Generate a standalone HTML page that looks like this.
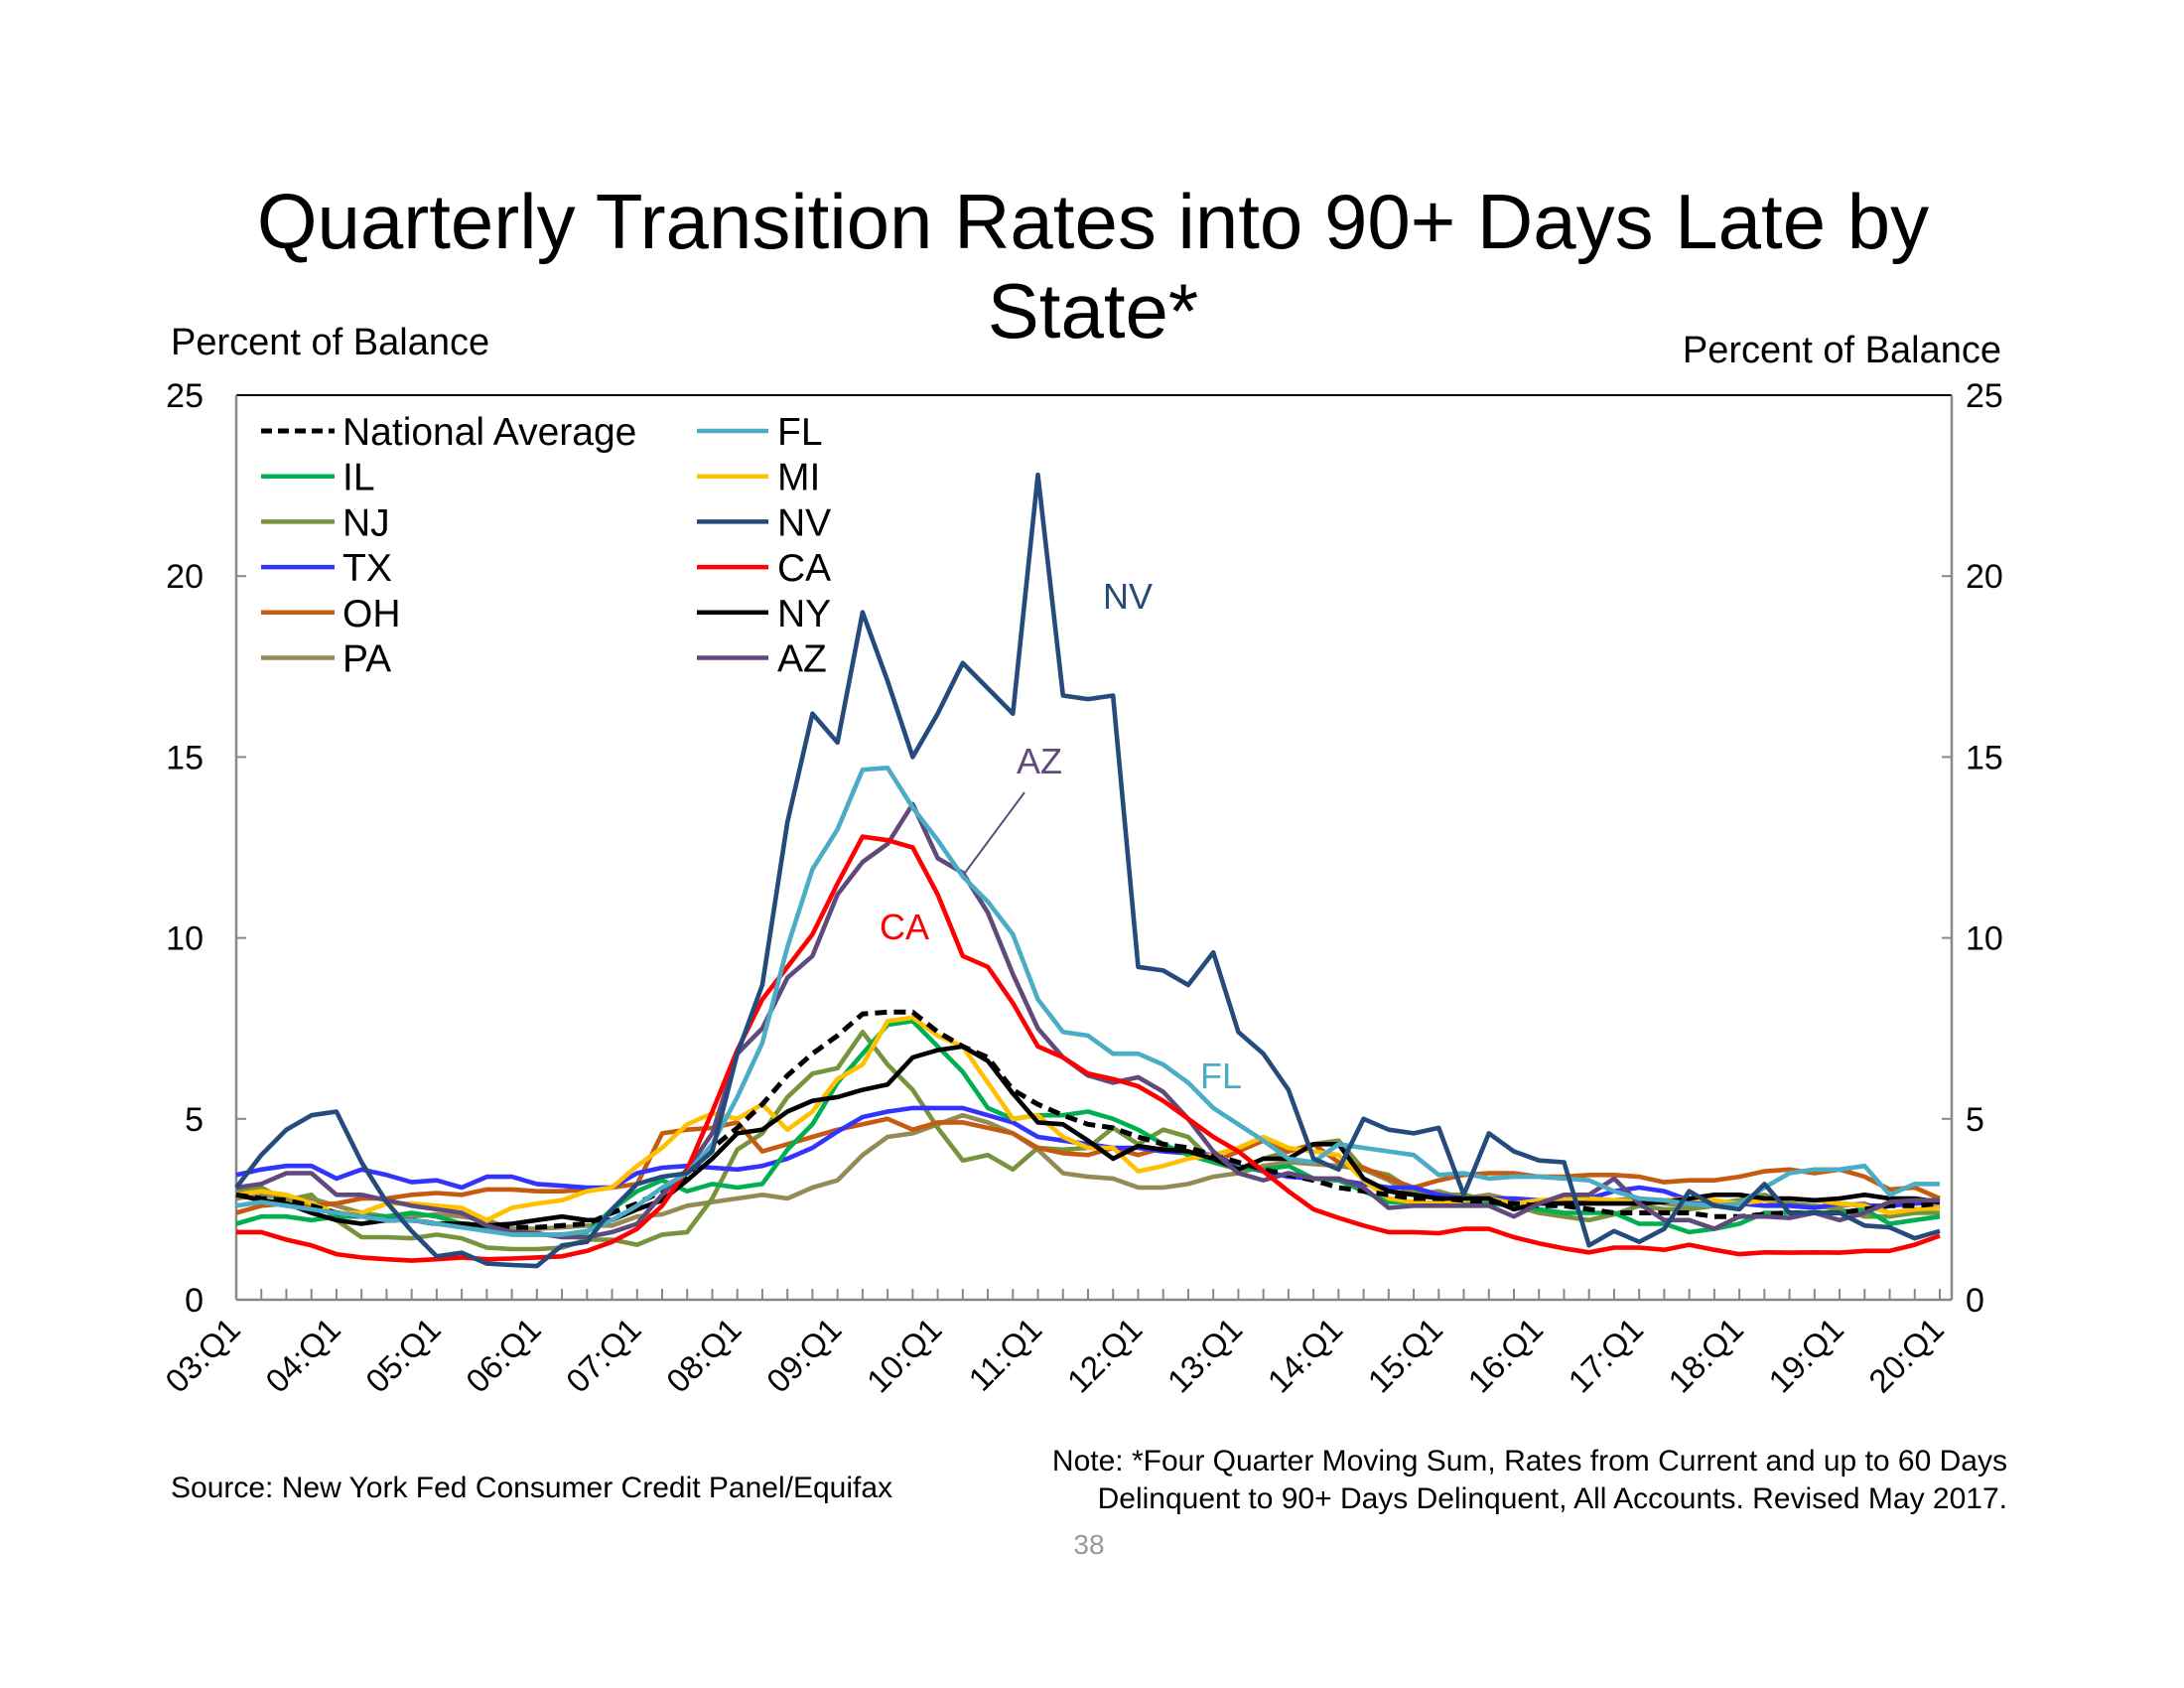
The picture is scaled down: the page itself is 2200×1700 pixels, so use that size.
<!DOCTYPE html>
<html><head><meta charset="utf-8"><style>
html,body{margin:0;padding:0;background:#fff}
svg{display:block;font-family:"Liberation Sans",Arial,sans-serif}
</style></head><body>
<svg id="chart" width="2200" height="1700" viewBox="0 0 2200 1700" xmlns="http://www.w3.org/2000/svg">
<text x="1101" y="250" font-size="78" text-anchor="middle">Quarterly Transition Rates into 90+ Days Late by</text>
<text x="1101" y="340" font-size="78" text-anchor="middle">State*</text>
<text x="172" y="357" font-size="38">Percent of Balance</text>
<text x="2016" y="365" font-size="38" text-anchor="end">Percent of Balance</text>
<text x="172" y="1508" font-size="30">Source: New York Fed Consumer Credit Panel/Equifax</text>
<text x="2022" y="1481" font-size="30" text-anchor="end">Note: *Four Quarter Moving Sum, Rates from Current and up to 60 Days</text>
<text x="2022" y="1519" font-size="30" text-anchor="end">Delinquent to 90+ Days Delinquent, All Accounts. Revised May 2017.</text>
<text x="1097" y="1565" font-size="28" fill="#999" text-anchor="middle">38</text>
<g id="plot"></g>
</svg>
<script>
const yTicks=[0,5,10,15,20,25];
const xLabels=["03:Q1","04:Q1","05:Q1","06:Q1","07:Q1","08:Q1","09:Q1","10:Q1","11:Q1","12:Q1","13:Q1","14:Q1","15:Q1","16:Q1","17:Q1","18:Q1","19:Q1","20:Q1"];
const seriesNames=["National Average","IL","NJ","TX","OH","PA","FL","MI","NV","CA","NY","AZ"];
const natAvg=[2.9,2.8,2.75,2.6,2.4,2.3,2.2,2.2,2.1,2.1,2.05,2.0,2.0,2.05,2.1,2.4,2.66,3.0,3.45,4.2,4.75,5.4,6.2,6.8,7.3,7.9,7.95,7.95,7.4,7.0,6.7,5.8,5.4,5.1,4.85,4.75,4.5,4.3,4.2,4.0,3.8,3.6,3.45,3.3,3.1,3.0,2.9,2.8,2.8,2.75,2.7,2.66,2.6,2.6,2.5,2.4,2.4,2.4,2.4,2.3,2.3,2.36,2.4,2.4,2.4,2.5,2.6,2.6,2.66];
const il=[2.1,2.3,2.3,2.2,2.3,2.3,2.3,2.4,2.3,2.1,2.0,1.8,1.8,1.8,1.87,2.5,3.0,3.3,3.0,3.2,3.1,3.2,4.15,4.85,6.0,6.8,7.6,7.7,7.0,6.3,5.3,5.0,5.1,5.1,5.2,5.0,4.7,4.3,4.0,3.8,3.65,3.6,3.7,3.35,3.3,3.0,2.7,2.7,2.66,2.66,2.66,2.6,2.5,2.4,2.4,2.4,2.1,2.1,1.87,1.96,2.1,2.4,2.4,2.4,2.4,2.5,2.1,2.2,2.3];
const nj=[3.0,3.1,2.75,2.9,2.2,1.73,1.73,1.7,1.8,1.7,1.44,1.4,1.4,1.44,1.66,1.66,1.52,1.8,1.87,2.8,4.15,4.6,5.6,6.25,6.4,7.4,6.5,5.8,4.75,3.85,4.0,3.6,4.2,4.15,4.2,4.75,4.3,4.7,4.5,3.8,3.6,3.9,4.1,4.3,4.4,3.6,3.45,3.0,2.9,2.9,2.75,2.6,2.4,2.3,2.2,2.36,2.6,2.5,2.5,2.6,2.75,2.9,2.66,2.6,2.5,2.3,2.3,2.4,2.4];
const tx=[3.45,3.6,3.7,3.7,3.35,3.6,3.45,3.25,3.3,3.1,3.4,3.4,3.2,3.15,3.1,3.1,3.5,3.65,3.7,3.65,3.6,3.7,3.9,4.2,4.65,5.05,5.2,5.3,5.3,5.3,5.1,4.9,4.5,4.4,4.3,4.2,4.2,4.1,4.05,4.0,3.7,3.55,3.4,3.35,3.3,3.2,3.1,3.1,2.9,2.8,2.8,2.8,2.75,2.7,2.8,3.0,3.1,3.0,2.75,2.66,2.66,2.6,2.6,2.54,2.66,2.6,2.6,2.66,2.7];
const oh=[2.4,2.6,2.66,2.6,2.66,2.8,2.8,2.9,2.95,2.9,3.05,3.05,3.0,3.0,3.05,3.1,3.2,4.6,4.7,4.75,4.9,4.1,4.3,4.5,4.7,4.85,5.0,4.7,4.9,4.9,4.75,4.6,4.2,4.05,4.0,4.2,4.0,4.2,4.05,3.8,4.1,4.4,4.1,4.3,3.8,3.65,3.35,3.1,3.3,3.45,3.5,3.5,3.4,3.4,3.45,3.45,3.4,3.25,3.3,3.3,3.4,3.55,3.6,3.5,3.6,3.4,3.05,3.1,2.8];
const pa=[2.8,2.9,2.8,2.8,2.6,2.4,2.3,2.3,2.36,2.3,2.2,1.96,1.96,2.0,2.05,2.05,2.3,2.36,2.6,2.7,2.8,2.9,2.8,3.1,3.3,4.0,4.5,4.6,4.85,5.1,4.9,4.6,4.15,3.5,3.4,3.35,3.1,3.1,3.2,3.4,3.5,3.7,3.8,3.75,3.7,3.6,3.3,2.9,3.0,2.8,2.9,2.75,2.7,2.75,2.75,2.75,2.8,2.66,2.6,2.66,2.75,2.75,2.6,2.54,2.6,2.66,2.4,2.4,2.6];
const fl=[2.6,2.7,2.6,2.5,2.4,2.3,2.2,2.2,2.1,2.0,1.9,1.8,1.8,1.8,1.9,2.2,2.6,3.1,3.5,4.3,5.6,7.1,9.75,11.9,13.0,14.65,14.7,13.6,12.7,11.7,11.0,10.1,8.3,7.4,7.3,6.8,6.8,6.5,6.0,5.3,4.85,4.4,3.9,3.8,4.3,4.2,4.1,4.0,3.45,3.5,3.35,3.4,3.4,3.35,3.3,3.0,2.8,2.75,2.65,2.6,2.65,3.1,3.5,3.6,3.6,3.7,2.9,3.2,3.2];
const mi=[2.9,3.0,2.9,2.66,2.4,2.4,2.66,2.66,2.6,2.54,2.2,2.54,2.66,2.75,3.0,3.1,3.7,4.2,4.85,5.15,5.0,5.4,4.7,5.2,6.1,6.5,7.7,7.8,7.3,7.0,6.0,5.0,5.1,4.5,4.2,4.2,3.55,3.7,3.9,4.0,4.2,4.5,4.2,4.1,4.0,3.3,2.8,2.7,2.66,2.75,2.8,2.66,2.75,2.8,2.8,2.75,2.7,2.75,2.8,2.75,2.66,2.75,2.8,2.75,2.66,2.6,2.4,2.5,2.54];
const nv=[3.1,4.0,4.7,5.1,5.2,3.8,2.7,1.9,1.2,1.3,1.0,0.96,0.93,1.5,1.6,2.5,3.2,3.4,3.5,4.1,6.8,8.7,13.2,16.2,15.4,19.0,17.1,15.0,16.2,17.6,16.9,16.2,22.8,16.7,16.6,16.7,9.2,9.1,8.7,9.6,7.4,6.8,5.8,3.9,3.6,5.0,4.7,4.6,4.75,2.9,4.6,4.1,3.85,3.8,1.5,1.9,1.6,1.96,3.0,2.6,2.5,3.2,2.4,2.4,2.4,2.05,2.0,1.7,1.9];
const ca=[1.87,1.87,1.66,1.5,1.26,1.17,1.12,1.08,1.12,1.17,1.12,1.14,1.17,1.2,1.35,1.6,1.96,2.6,3.6,5.2,6.9,8.3,9.2,10.1,11.5,12.8,12.7,12.5,11.2,9.5,9.2,8.2,7.0,6.7,6.25,6.1,5.9,5.5,5.0,4.5,4.1,3.55,3.0,2.5,2.26,2.05,1.87,1.87,1.84,1.96,1.96,1.73,1.56,1.42,1.31,1.44,1.44,1.38,1.52,1.38,1.26,1.31,1.3,1.31,1.3,1.35,1.35,1.52,1.77];
const ny=[2.9,2.75,2.66,2.4,2.2,2.1,2.2,2.2,2.1,2.1,2.05,2.1,2.2,2.3,2.2,2.2,2.5,2.75,3.3,3.9,4.6,4.7,5.2,5.5,5.6,5.8,5.95,6.7,6.9,7.0,6.6,5.7,4.9,4.85,4.4,3.9,4.25,4.15,4.1,3.9,3.6,3.9,3.9,4.3,4.3,3.35,3.0,2.9,2.8,2.8,2.8,2.5,2.66,2.66,2.66,2.66,2.66,2.7,2.8,2.9,2.9,2.8,2.8,2.75,2.8,2.9,2.8,2.8,2.7];
const az=[3.1,3.2,3.5,3.5,2.9,2.9,2.75,2.6,2.5,2.4,2.05,1.87,1.84,1.73,1.73,1.87,2.1,2.9,3.6,4.6,6.8,7.5,8.9,9.5,11.2,12.1,12.6,13.7,12.2,11.8,10.7,9.0,7.5,6.7,6.2,6.0,6.15,5.75,5.0,4.1,3.5,3.3,3.5,3.35,3.35,3.1,2.54,2.6,2.6,2.6,2.6,2.3,2.66,2.9,2.9,3.35,2.66,2.2,2.2,1.96,2.3,2.3,2.26,2.4,2.2,2.4,2.7,2.75,2.75];

const NS="http://www.w3.org/2000/svg";
const plot=document.getElementById('plot');
const X0=238,X1=1966,XL=1954,Y0=1309,YT=398,NQ=68;
function xs(i){return X0+(XL-X0)*i/NQ;}
function ys(v){return Y0-(Y0-YT)*v/25;}
function mk(tag,attrs,parent){const e=document.createElementNS(NS,tag);for(const k in attrs)e.setAttribute(k,attrs[k]);(parent||plot).appendChild(e);return e;}

let e;
e=mk('line',{x1:X0,y1:YT,x2:X1,y2:YT,stroke:'#000','stroke-width':2});


e=mk('line',{x1:X0,y1:YT,x2:X0,y2:Y0,stroke:'#888','stroke-width':2.5});


e=mk('line',{x1:X1,y1:YT,x2:X1,y2:Y0,stroke:'#888','stroke-width':2.5});


e=mk('line',{x1:X0,y1:Y0,x2:X1,y2:Y0,stroke:'#888','stroke-width':2.5});



yTicks.forEach(v=>{
  const y=ys(v);
  if(v>0&&v<25){
    let t=mk('line',{x1:X0,y1:y,x2:X0+10,y2:y,stroke:'#888','stroke-width':2});
    
    
    t=mk('line',{x1:X1-10,y1:y,x2:X1,y2:y,stroke:'#888','stroke-width':2});
    
    
  }
  let l=mk('text',{x:205,y:y+12,'font-size':34,'text-anchor':'end'});l.textContent=v;
  
  
  l=mk('text',{x:1980,y:y+12,'font-size':34});l.textContent=v;
  
  
});
for(let i=1;i<=NQ;i++){
  const t=mk('line',{x1:xs(i),y1:Y0,x2:xs(i),y2:Y0-11,stroke:'#888','stroke-width':2});
  
  
}
xLabels.forEach((lab,k)=>{
  const x=xs(k*4)+6,y=Y0+32;
  const t=mk('text',{x:x,y:y,'font-size':33,'text-anchor':'end',transform:`rotate(-45 ${x} ${y})`});
  t.textContent=lab;
  
  
});

const seriesData=[natAvg,il,nj,tx,oh,pa,fl,mi,nv,ca,ny,az];
const colors=['#000','#00b050','#77933c','#3333ff','#c55a11','#948a54','#4bacc6','#ffc000','#254a7c','#ff0000','#000','#604a7b'];
const drawOrder=[5,2,4,3,1,7,10,0,11,9,6,8];
drawOrder.forEach(s=>{
  const d=seriesData[s].map((v,i)=>(i?'L':'M')+xs(i).toFixed(1)+','+ys(v).toFixed(1)).join('');
  const p=mk('path',{d:d,fill:'none',stroke:colors[s],'stroke-width':s===0?5:4.6,'stroke-linejoin':'round','stroke-dasharray':s===0?'12 7':'none'});
  
  
});

const legendCols=[[0,1,2,3,4,5],[6,7,8,9,10,11]];
const lx=[[263,337,345],[702,774,783]];
legendCols.forEach((col,c)=>{
  col.forEach((s,r)=>{
    const y=434+r*45.7;
    const g=mk('g',{});
    
    
    mk('line',{x1:lx[c][0],y1:y,x2:lx[c][1],y2:y,stroke:colors[s],'stroke-width':s===0?5:4.5,'stroke-dasharray':s===0?'11 6':'none'},g);
    const t=mk('text',{x:lx[c][2],y:y+14,'font-size':39},g);
    t.textContent=seriesNames[s];
  });
});

function ann(txt,x,y,col,name){const t=mk('text',{x:x,y:y,'font-size':36,fill:col});t.textContent=txt;
  
  }
ann('NV',1111,613,'#254a7c','nv-annotation');
ann('FL',1209,1096,'#4bacc6','fl-annotation');
ann('AZ',1024,779,'#604a7b','az-annotation');
ann('CA',886,946,'#ff0000','ca-annotation');
e=mk('line',{x1:1032,y1:798,x2:972,y2:879,stroke:'#604a7b','stroke-width':2});


</script>
</body></html>
